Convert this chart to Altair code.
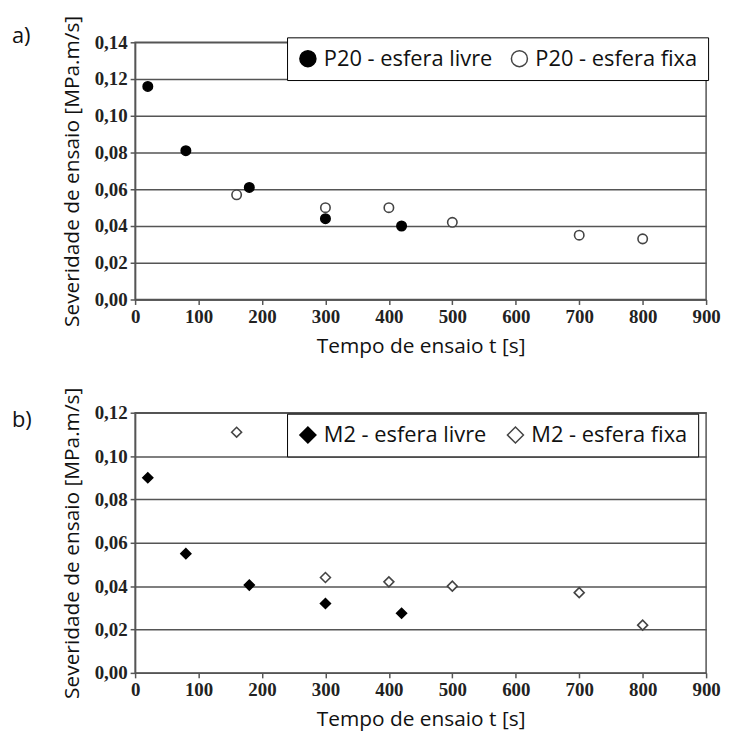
import altair as alt
import pandas as pd

# ---- data ----
t_a_livre = [20, 80, 180, 300, 420]
s_a_livre = [0.116, 0.081, 0.061, 0.044, 0.040]
t_a_fixa = [160, 300, 400, 500, 700, 800]
s_a_fixa = [0.057, 0.050, 0.050, 0.042, 0.035, 0.033]

t_b_livre = [20, 80, 180, 300, 420]
s_b_livre = [0.090, 0.055, 0.0405, 0.032, 0.0275]
t_b_fixa = [160, 300, 400, 500, 700, 800]
s_b_fixa = [0.111, 0.044, 0.042, 0.040, 0.037, 0.022]

series_a = ["P20 - esfera livre", "P20 - esfera fixa"]
series_b = ["M2 - esfera livre", "M2 - esfera fixa"]

x_ticks = [0, 100, 200, 300, 400, 500, 600, 700, 800, 900]
y_ticks_a = [0.0, 0.02, 0.04, 0.06, 0.08, 0.10, 0.12, 0.14]
y_ticks_b = [0.0, 0.02, 0.04, 0.06, 0.08, 0.10, 0.12]

x_title = "Tempo de ensaio t [s]"
y_title = "Severidade de ensaio [MPa.m/s]"


def make_df(names, t1, s1, t2, s2):
    rows = [{"t": t, "s": s, "serie": names[0]} for t, s in zip(t1, s1)]
    rows += [{"t": t, "s": s, "serie": names[1]} for t, s in zip(t2, s2)]
    return pd.DataFrame(rows)


LABEL_EXPR = "replace(format(datum.value, '.2f'), '.', ',')"


def panel(df, names, shape, y_ticks, height, tag, tag_y, size, legend_y, col_pad):
    legend = alt.Legend(
        title=None,
        orient="none",
        legendX=153,
        legendY=legend_y,
        direction="horizontal",
        fillColor="white",
        strokeColor="black",
        padding=10,
        symbolSize=260,
        symbolStrokeWidth=1.5,
        labelFont="Open Sans",
        labelFontSize=22,
        labelColor="#111",
        labelOffset=5,
        labelLimit=0,
        columnPadding=col_pad,
    )
    x = alt.X(
        "t:Q",
        scale=alt.Scale(domain=[0, 900], nice=False),
        axis=alt.Axis(values=x_ticks, title=x_title, grid=False, format="d", labelFlush=False),
    )
    y = alt.Y(
        "s:Q",
        scale=alt.Scale(domain=[0, y_ticks[-1]], nice=False),
        axis=alt.Axis(values=y_ticks, title=y_title, grid=True, labelExpr=LABEL_EXPR, labelFlush=False),
    )
    pts = alt.Chart(df).mark_point(filled=True, size=size, strokeWidth=1.6, opacity=1).encode(
        x=x,
        y=y,
        shape=alt.Shape("serie:N", scale=alt.Scale(domain=names, range=[shape, shape]), legend=legend),
        fill=alt.Fill("serie:N", scale=alt.Scale(domain=names, range=["black", "white"]), legend=legend),
        stroke=alt.Stroke("serie:N", scale=alt.Scale(domain=names, range=["black", "#444"]), legend=legend),
    )
    lab = alt.Chart(pd.DataFrame({"k": [tag]})).mark_text(
        font="Open Sans", fontSize=22, align="left", baseline="middle", color="#111"
    ).encode(x=alt.value(-124), y=alt.value(tag_y), text="k:N")
    return alt.layer(pts, lab).properties(width=575, height=height)


df_a = make_df(series_a, t_a_livre, s_a_livre, t_a_fixa, s_a_fixa)
df_b = make_df(series_b, t_b_livre, s_b_livre, t_b_fixa, s_b_fixa)

top = panel(df_a, series_a, "circle", y_ticks_a, 259, "a)", -6, 90, -5, 15)
bottom = panel(df_b, series_b, "diamond", y_ticks_b, 262, "b)", 7, 100, 1, 17)

chart = (
    alt.vconcat(top, bottom, spacing=29)
    .resolve_scale(shape="independent", fill="independent", stroke="independent")
    .resolve_legend(shape="independent", fill="independent", stroke="independent")
    .properties(padding={"left": 3, "top": 3, "right": 0, "bottom": 0}, background="white")
    .configure_view(stroke="#555", strokeWidth=1.5)
    .configure_axis(
        domainColor="#555",
        domainWidth=1.5,
        tickColor="#555",
        tickWidth=1.5,
        tickSize=5,
        gridColor="#555",
        gridWidth=1.5,
        labelFont="Liberation Serif",
        labelFontWeight="bold",
        labelFontSize=19,
        labelColor="#222",
        labelPadding=3,
        titleFont="Open Sans",
        titleFontSize=21,
        titleFontWeight="normal",
        titleColor="#111",
    )
    .configure_axisX(titlePadding=9)
    .configure_axisY(titlePadding=12)
)

chart.save("out.html", embed_options={"renderer": "svg", "actions": False})
